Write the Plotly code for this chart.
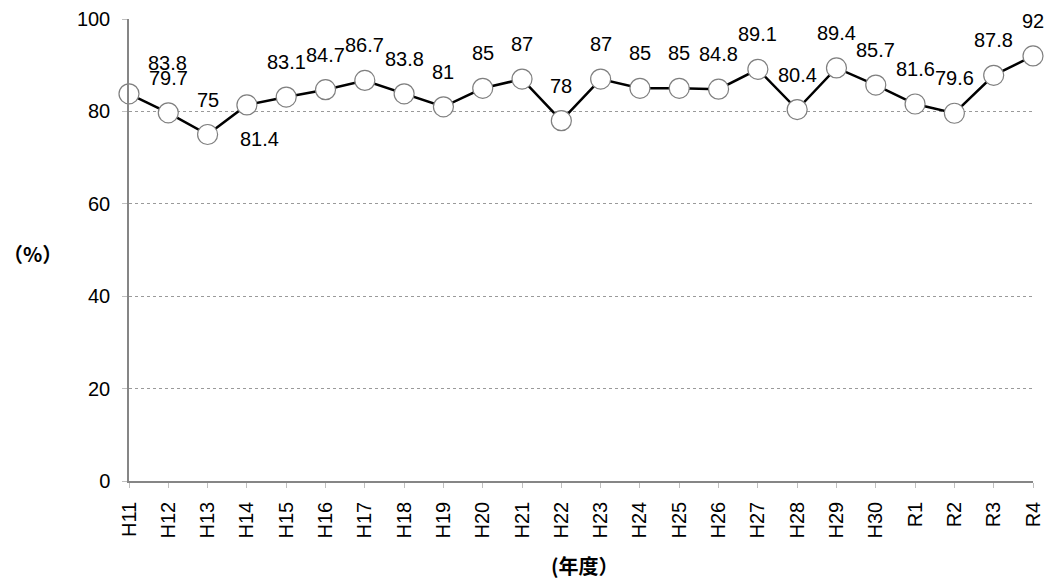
import plotly.graph_objects as go

categories = ["H11", "H12", "H13", "H14", "H15", "H16", "H17", "H18", "H19", "H20",
              "H21", "H22", "H23", "H24", "H25", "H26", "H27", "H28", "H29", "H30",
              "R1", "R2", "R3", "R4"]
values = [83.8, 79.7, 75, 81.4, 83.1, 84.7, 86.7, 83.8, 81, 85,
          87, 78, 87, 85, 85, 84.8, 89.1, 80.4, 89.4, 85.7,
          81.6, 79.6, 87.8, 92]
value_labels = ["83.8", "79.7", "75", "81.4", "83.1", "84.7", "86.7", "83.8", "81", "85",
                "87", "78", "87", "85", "85", "84.8", "89.1", "80.4", "89.4", "85.7",
                "81.6", "79.6", "87.8", "92"]
y_ticks = [0, 20, 40, 60, 80, 100]

# label offsets (pixels) — style only
label_dx = [38, 0, 0, 13] + [0] * 20
label_dy = [31, 35, 35, -34] + [35] * 20

W, H = 1048, 580
ML, MR, MT, MB = 129, 15, 19, 99
PW = W - ML - MR
PH = H - MT - MB

FONT = "Liberation Sans"
FS = 20

fig = go.Figure()
fig.add_trace(go.Scatter(
    x=categories, y=values, mode="lines+markers",
    line=dict(color="black", width=2.5),
    marker=dict(size=20, color="white", line=dict(color="#7f7f7f", width=1.2)),
    cliponaxis=False, showlegend=False, hoverinfo="skip",
))

annotations = []
for c, v, t, dx, dy in zip(categories, values, value_labels, label_dx, label_dy):
    annotations.append(dict(
        x=c, y=v, xref="x", yref="y", text=t, showarrow=False,
        xshift=dx, yshift=dy, font=dict(family=FONT, size=FS, color="black"),
        xanchor="center", yanchor="middle",
    ))

annotations.append(dict(
    x=(32 - ML) / PW, y=(H - MB - 253) / PH, xref="paper", yref="paper",
    text="<b>（%）</b>", showarrow=False, xanchor="center", yanchor="middle",
    font=dict(family="Noto Sans CJK JP", size=20, color="black"),
))
annotations.append(dict(
    x=(585 - ML) / PW, y=(H - MB - 565) / PH, xref="paper", yref="paper",
    text="<b>(年度）</b>", showarrow=False, xanchor="center", yanchor="middle",
    font=dict(family="Noto Sans CJK JP", size=20, color="black"),
))

fig.update_layout(
    width=W, height=H, autosize=False,
    margin=dict(l=ML, r=MR, t=MT, b=MB, autoexpand=False),
    paper_bgcolor="white", plot_bgcolor="white",
    annotations=annotations,
    font=dict(family=FONT, size=FS, color="black"),
)
fig.update_xaxes(
    type="category", range=[0, len(categories) - 1], automargin=False,
    showline=True, linecolor="#868686", linewidth=1.5,
    ticks="outside", ticklen=5, tickcolor="#bfbfbf", tickwidth=1,
    tickangle=-90, showgrid=False, zeroline=False,
    tickfont=dict(family=FONT, size=FS, color="black"),
    ticklabelstandoff=6,
)
fig.update_yaxes(
    range=[0, 100], tickvals=y_ticks, automargin=False,
    showline=True, linecolor="#868686", linewidth=1.5,
    ticks="outside", ticklen=5, tickcolor="#bfbfbf", tickwidth=1,
    showgrid=True, gridcolor="#9a9a9a", griddash="dot", gridwidth=1,
    zeroline=False,
    tickfont=dict(family=FONT, size=FS, color="black"),
    ticklabelstandoff=8,
)

fig.write_html("out.html", config={"displayModeBar": False},
               post_script="document.body.style.margin='0';")
